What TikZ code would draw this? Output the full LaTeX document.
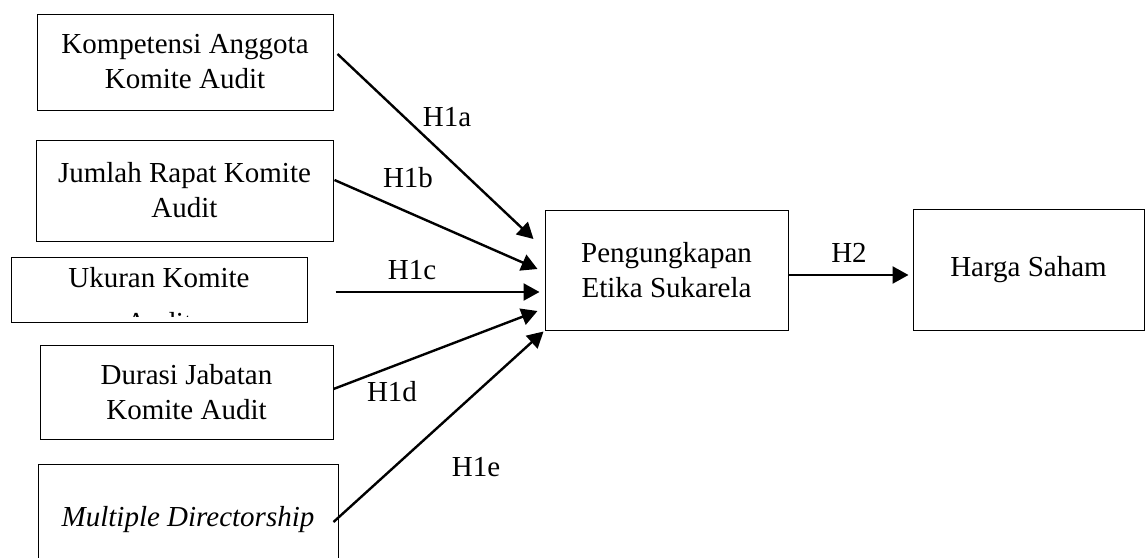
\documentclass[tikz,border=0pt]{standalone}
\usepackage{fontspec}
\setmainfont{Liberation Serif}
\usetikzlibrary{arrows.meta,calc}

\begin{document}
\begin{tikzpicture}[x=0.5pt,y=-0.5pt,
    varbox/.style={draw,line width=0.5pt,inner sep=0pt,align=center,
      font=\fontsize{14.5}{17.5}\selectfont},
    hyp/.style={-{Triangle[length=8pt,width=8.5pt]},line width=1.2pt},
    hlabel/.style={inner sep=0pt,font=\fontsize{14.5}{17.5}\selectfont}]
  \useasboundingbox (0,0) rectangle (1146,557);
  \clip (0,0) rectangle (1146,557);
  % independent variables
  \node[varbox,minimum width=148pt,minimum height=48pt] (komp) at (185,62)
    {Kompetensi Anggota\\Komite Audit};
  \node[varbox,minimum width=148.5pt,minimum height=50.5pt] (jumlah) at (184.5,190.5)
    {Jumlah Rapat Komite\\Audit};
  \node[varbox,minimum width=148pt,minimum height=32.5pt] (ukuran) at (159,289.5) {};
  \begin{scope}
    \clip (ukuran.north west) rectangle ($(ukuran.south east)+(0,-6)$);
    \node[hlabel,align=center] (ukurantext) at (159,300.5) {Ukuran Komite\\[5pt]Audit};
  \end{scope}
  \node[varbox,minimum width=146.5pt,minimum height=47pt] (durasi) at (186.5,392)
    {Durasi Jabatan\\Komite Audit};
  \node[varbox,minimum width=150pt,minimum height=56pt] (multi) at (188,520)
    {\itshape Multiple Directorship};
  % mediating and dependent variables
  \node[varbox,minimum width=121.5pt,minimum height=60pt] (peng) at (666.5,270)
    {Pengungkapan\\Etika Sukarela};
  \node[varbox,minimum width=115.5pt,minimum height=60.5pt] (harga) at (1028.5,269.5)
    {Harga Saham};
  % hypotheses
  \draw[hyp] ($(komp.east)+(4,-8)$) -- ($(peng.west)+(-11,-31)$);
  \draw[hyp] ($(jumlah.east)+(1,-10.5)$) -- ($(peng.west)+(-7,-1)$);
  \draw[hyp] ($(ukuran.east)+(28,2.5)$) -- ($(peng.west)+(-5,22)$);
  \draw[hyp] ($(durasi.east)+(0,-3)$) -- ($(peng.west)+(-7,41)$);
  \draw[hyp] ($(multi.east)+(-5,2)$) -- ($(peng.south west)+(-1,1)$);
  \draw[hyp] ($(peng.east)+(0,5)$) -- ($(harga.west)+(-4,5.5)$);
  \node[hlabel] (h1a) at (447,117) {H1a};
  \node[hlabel] (h1b) at (408,178) {H1b};
  \node[hlabel] (h1c) at (412,270) {H1c};
  \node[hlabel] (h1d) at (392,392) {H1d};
  \node[hlabel] (h1e) at (476,467) {H1e};
  \node[hlabel] (h2) at (849,253) {H2};
\end{tikzpicture}
\end{document}
